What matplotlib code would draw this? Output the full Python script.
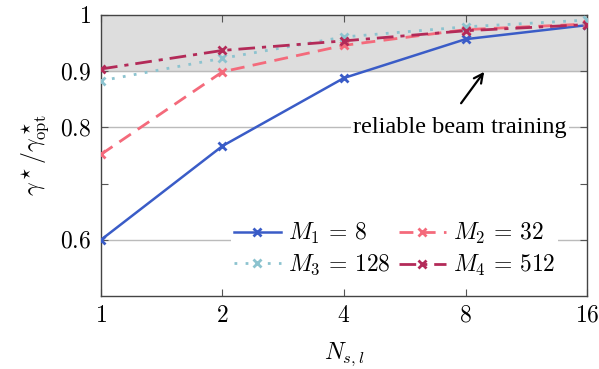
import matplotlib
matplotlib.use("Agg")
import matplotlib.pyplot as plt
from matplotlib.ticker import FixedLocator, NullLocator, FixedFormatter

plt.rcParams['mathtext.fontset'] = 'cm'
plt.rcParams['font.family'] = 'serif'
plt.rcParams['font.serif'] = ['Liberation Serif', 'DejaVu Serif']

# data
n_sl = [1, 2, 4, 8, 16]
m1 = [0.600, 0.767, 0.888, 0.957, 0.982]
m2 = [0.752, 0.899, 0.946, 0.974, 0.984]
m3 = [0.883, 0.923, 0.961, 0.979, 0.991]
m4 = [0.904, 0.937, 0.954, 0.972, 0.983]
labels = [r'$M_1\,=\,8$', r'$M_2\,=\,32$', r'$M_3\,=\,128$', r'$M_4\,=\,512$']
y_ticks = [0.6, 0.7, 0.8, 0.9, 1.0]
y_tick_labels = [r'$0.6$', '', r'$0.8$', r'$0.9$', r'$1$']
x_tick_labels = [r'$1$', r'$2$', r'$4$', r'$8$', r'$16$']

colors = ['#3a5cc7', '#f46a7b', '#8cc3cf', '#b32a58']
styles = ['-', (0, (5, 3)), (0, (1, 3)), (0, (6, 2.5, 1.5, 2.5))]

fig = plt.figure(figsize=(5.99, 3.69), dpi=100)
ax = fig.add_axes([0.1686, 0.1978, 0.8114, 0.7615])

ax.axhspan(0.9, 1.0, color='#dddddd', zorder=0)
for g in [0.6, 0.8, 0.9]:
    ax.axhline(g, color='#bbbbbb', lw=1, zorder=0.5)

lines = []
for ys, lab, c, ls in zip([m1, m2, m3, m4], labels, colors, styles):
    lw = 1.8 if ls == '-' else 2.0
    l, = ax.plot(n_sl, ys, color=c, ls=ls, lw=lw, marker='x', ms=6, mew=2,
                 label=lab, zorder=3)
    lines.append(l)

ax.set_xscale('log', base=2)
ax.set_xlim(1, 16)
ax.set_ylim(0.5, 1.0)
ax.xaxis.set_major_locator(FixedLocator(n_sl))
ax.xaxis.set_major_formatter(FixedFormatter(x_tick_labels))
ax.xaxis.set_minor_locator(NullLocator())
ax.yaxis.set_major_locator(FixedLocator(y_ticks))
ax.yaxis.set_major_formatter(FixedFormatter(y_tick_labels))
ax.tick_params(direction='in', top=True, right=True, length=5, width=0.8,
               color='#555555', labelsize=17, pad=7)
for s in ax.spines.values():
    s.set_color('#444444')
    s.set_linewidth(1.0)

ax.set_xlabel(r'$N_{s,l}$', fontsize=17, labelpad=10)
ax.set_ylabel(r'$\gamma^\star/\gamma^\star_{\rm opt}$', fontsize=17, labelpad=6)

ax.text(7.75, 0.8, 'reliable beam training', fontsize=17.5, ha='center',
        va='center', zorder=4,
        bbox=dict(boxstyle='square,pad=0.1', fc='white', ec='none'))
ax.annotate('', xy=(8.9, 0.899), xytext=(7.8, 0.843),
            arrowprops=dict(arrowstyle='->', color='black', lw=1.6,
                            shrinkA=0, shrinkB=0, mutation_scale=16),
            zorder=4)

order = [0, 2, 1, 3]
leg = ax.legend([lines[i] for i in order], [labels[i] for i in order],
                ncol=2, loc='lower right', bbox_to_anchor=(0.94, 0.055),
                fontsize=17, frameon=True, fancybox=False, edgecolor='none',
                framealpha=1, handlelength=2.0, handletextpad=0.3,
                columnspacing=0.35, labelspacing=0.3, borderpad=0.1,
                borderaxespad=0, markerscale=0.85)
leg.set_zorder(5)

fig.savefig('out.png', dpi=100)
